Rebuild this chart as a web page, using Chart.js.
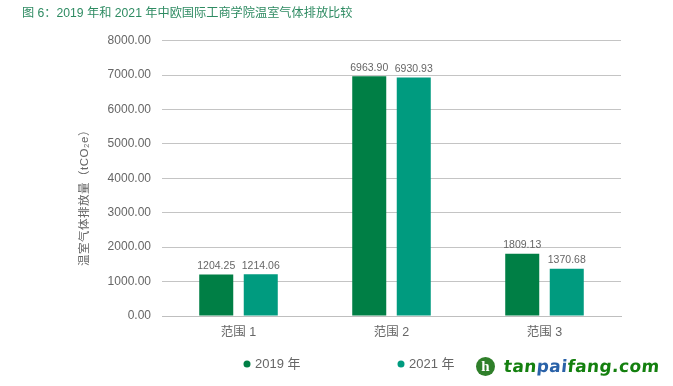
<!DOCTYPE html>
<html>
<head>
<meta charset="utf-8">
<script src="https://cdn.jsdelivr.net/npm/chart.js@4"></script>
<style>
html, body { margin: 0; padding: 0; background: #fff; }
#wrap { position: relative; width: 673px; height: 386px; overflow: hidden; }
#logo { position: absolute; left: 476px; top: 357px; width: 19px; height: 19px; border-radius: 50%; background: #2f7f2a;
  color: #fff; font: bold 15px/18px "Liberation Serif", serif; text-align: center; }
#site { position: absolute; left: 504px; top: 356px; font: bold 17px/20px "DejaVu Sans", sans-serif; color: #14800f; white-space: nowrap; letter-spacing: 0.4px; transform: skewX(-6deg); }
#site span { color: #2a62a8; }
</style>
</head>
<body>
<div id="wrap">
  <canvas id="emissions-plot" width="673" height="386"></canvas>
  <div id="logo">h</div>
  <div id="site">tan<span>pai</span>fang.com</div>
</div>
<script>
const chart_title = '图 6：2019 年和 2021 年中欧国际工商学院温室气体排放比较'
const y_title = '温室气体排放量（tCO₂e）'
const categories = ['范围 1', '范围 2', '范围 3']
const series_names = ['2019 年', '2021 年']
const values_2019 = [1204.25, 6963.90, 1809.13]
const values_2021 = [1214.06, 6930.93, 1370.68]

const font_latin_cjk = '"Liberation Sans", "Noto Sans CJK SC", sans-serif'
const text_colour = '#666666'
const legend_x = [247, 401]

// numbers above the bars, y axis title and legend are placed by hand here
const extras = {
    id: 'extras',
    afterDatasetsDraw(chart) {
        const ctx = chart.ctx
        ctx.save()
        ctx.fillStyle = text_colour
        ctx.font = '10.5px ' + font_latin_cjk
        ctx.textAlign = 'center'
        ctx.textBaseline = 'bottom'
        chart.data.datasets.forEach((ds, i) => {
            chart.getDatasetMeta(i).data.forEach((bar, j) => {
                ctx.fillText(ds.data[j].toFixed(2), bar.x, bar.y - 3)
            })
        })

        ctx.save()
        ctx.translate(85, 195)
        ctx.rotate(-Math.PI / 2)
        ctx.textBaseline = 'middle'
        ctx.font = '11.5px ' + font_latin_cjk
        ctx.letterSpacing = '0.5px'
        ctx.fillText(y_title, 0, 0)
        ctx.restore()

        ctx.textAlign = 'left'
        ctx.textBaseline = 'middle'
        ctx.font = '13px ' + font_latin_cjk
        chart.data.datasets.forEach((ds, i) => {
            ctx.fillStyle = ds.backgroundColor
            ctx.beginPath()
            ctx.arc(legend_x[i], 364, 3.5, 0, Math.PI * 2)
            ctx.fill()
            ctx.fillStyle = text_colour
            ctx.fillText(ds.label, legend_x[i] + 8, 364)
        })
        ctx.restore()
    }
}

new Chart(document.getElementById('emissions-plot'), {
    type: 'bar',
    data: {
        labels: categories,
        datasets: [
            { label: series_names[0], data: values_2019, backgroundColor: '#007f45' },
            { label: series_names[1], data: values_2021, backgroundColor: '#009b7f' }
        ]
    },
    options: {
        responsive: false,
        animation: false,
        layout: { padding: { left: 22, right: 52, top: 0, bottom: 0 } },
        datasets: { bar: { categoryPercentage: 0.582, barPercentage: 0.764 } },
        scales: {
            x: {
                afterFit(scale) { scale.height = 70 },
                grid: { display: false, drawTicks: false },
                border: { color: '#bfbfbf' },
                ticks: { color: text_colour, font: { size: 12.5, family: font_latin_cjk }, padding: 9 }
            },
            y: {
                min: 0,
                max: 8000,
                afterFit(scale) { scale.width = 140 },
                grid: { color: '#c4c4c4', drawTicks: false },
                border: { display: false },
                ticks: {
                    stepSize: 1000,
                    color: text_colour,
                    padding: 11,
                    font: { size: 12, family: font_latin_cjk },
                    callback: v => v.toFixed(2)
                }
            }
        },
        plugins: {
            tooltip: { enabled: false },
            legend: { display: false },
            title: {
                display: true,
                text: chart_title,
                align: 'start',
                color: '#2e8b62',
                font: { size: 12.2, weight: 'normal', family: font_latin_cjk },
                padding: { top: 6, bottom: 20 }
            }
        }
    },
    plugins: [extras]
})
</script>
</body>
</html>
